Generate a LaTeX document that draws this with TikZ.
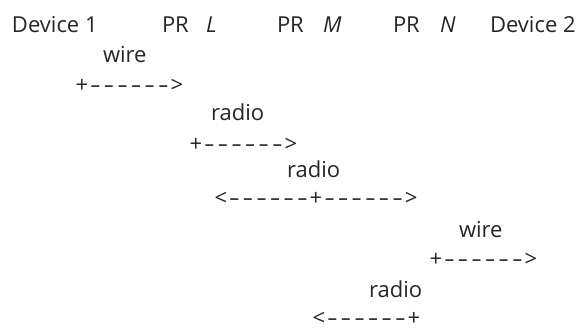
\documentclass[tikz,border=0pt]{standalone}
\usepackage{fontspec}
\usepackage{graphicx}
\setmainfont{Open Sans}
\newcommand\ac[1]{\makebox[13.6pt]{#1}}
\newcommand\dsh{\makebox[13.6pt]{\scalebox{1.5}[1]{-}}}
\newcommand\sixdash{\dsh\dsh\dsh\dsh\dsh\dsh}
\tikzset{
  lbl/.style={anchor=base west, inner sep=0pt, outer sep=0pt, text=black!85,
    font=\fontsize{22}{26}\selectfont},
}
\begin{document}
\begin{tikzpicture}[x=1pt,y=-1pt]
\useasboundingbox[fill=white] (0,0) rectangle (586,330);
% header row
\node[lbl] (d1)  at (12,32)  {Device 1};
\node[lbl] (prL) at (162,32) {PR};
\node[lbl] (L)   at (206,32) {\textit{L}};
\node[lbl] (prM) at (277,32) {PR};
\node[lbl] (M)   at (323,32) {\textit{M}};
\node[lbl] (prN) at (393,32) {PR};
\node[lbl] (N)   at (440,32) {\textit{N}};
\node[lbl] (d2)  at (490,32) {Device 2};
% messages
\node[lbl] (w1) at (103,62)  {wire};
\node[lbl] (a1) at (75,92)   {\ac{+}\sixdash\ac{>}};
\node[lbl] (r1) at (211,120) {radio};
\node[lbl] (a2) at (189,151) {\ac{+}\sixdash\ac{>}};
\node[lbl] (r2) at (287,177) {radio};
\node[lbl] (a3) at (214,205) {\ac{<}\sixdash\ac{+}\sixdash\ac{>}};
\node[lbl] (w2) at (459,237) {wire};
\node[lbl] (a4) at (429,266) {\ac{+}\sixdash\ac{>}};
\node[lbl] (r3) at (369,297) {radio};
\node[lbl] (a5) at (312,325) {\ac{<}\sixdash\ac{+}};
\end{tikzpicture}
\end{document}
